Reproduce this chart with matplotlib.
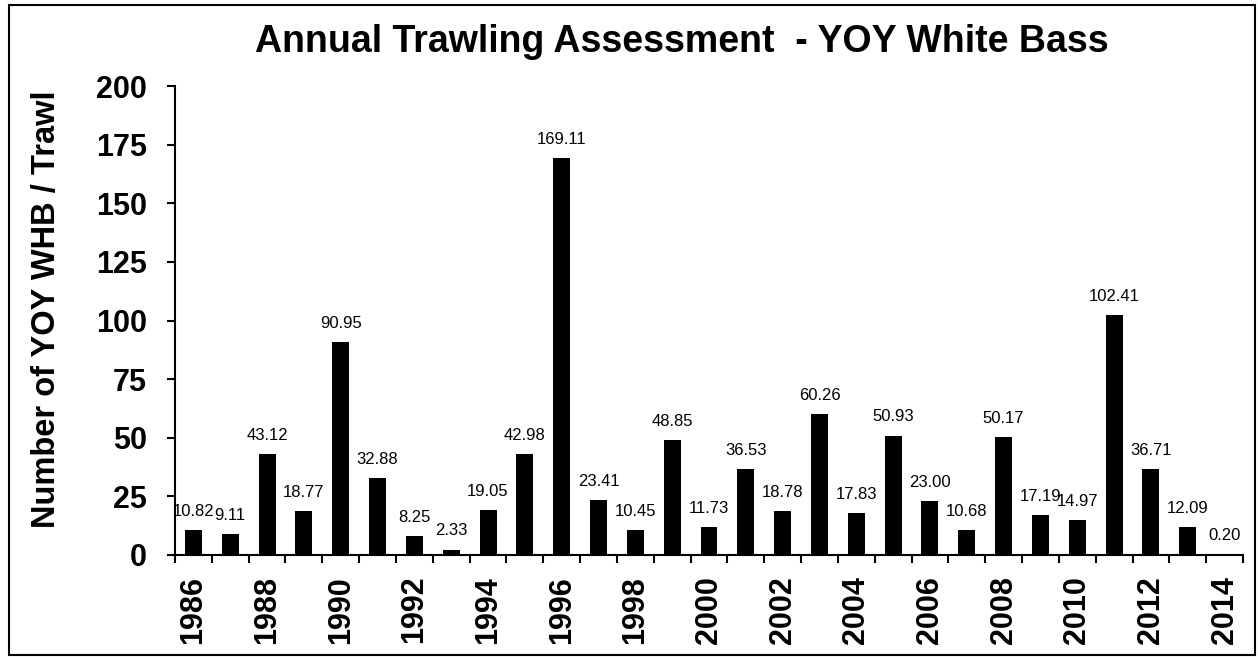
import matplotlib
matplotlib.use("Agg")
import matplotlib.pyplot as plt
from matplotlib.patches import Rectangle
import numpy as np

years = list(range(1986, 2015))
values = [10.82, 9.11, 43.12, 18.77, 90.95, 32.88, 8.25, 2.33, 19.05, 42.98,
          169.11, 23.41, 10.45, 48.85, 11.73, 36.53, 18.78, 60.26, 17.83, 50.93,
          23.00, 10.68, 50.17, 17.19, 14.97, 102.41, 36.71, 12.09, 0.20]
yticks = [0, 25, 50, 75, 100, 125, 150, 175, 200]
title = "Annual Trawling Assessment  - YOY White Bass"
ylabel = "Number of YOY WHB / Trawl"

plt.rcParams['font.family'] = ['Liberation Sans', 'DejaVu Sans']

W, H = 1258, 658
fig = plt.figure(figsize=(W / 100, H / 100), dpi=100)
ax = fig.add_axes([175 / W, 1 - 555 / H, (1243 - 175) / W, (555 - 86) / H])

x = np.arange(len(years))
ax.bar(x, values, width=0.46, color='black')
for xi, v in zip(x, values):
    ax.annotate(f"{v:.2f}", (xi, v), xytext=(0, 8), textcoords='offset points',
                ha='center', va='bottom', fontsize=12)

ax.set_xlim(-0.5, len(years) - 0.5)
ax.set_ylim(0, 200)
ax.set_yticks(yticks)
ax.set_yticklabels([str(t) for t in yticks], fontsize=22, fontweight='bold')
ax.set_xticks(np.arange(len(years) + 1) - 0.5)
ax.set_xticklabels([])
ax.set_xticks(x[::2], minor=True)
ax.set_xticklabels([str(y) for y in years[::2]], minor=True, rotation=90,
                   fontsize=22, fontweight='bold')
ax.tick_params(axis='x', which='minor', length=0, pad=15)
ax.tick_params(axis='x', which='major', direction='out', length=6, width=1.5)
ax.tick_params(axis='y', direction='out', length=6, width=1.5, pad=14)
for s in ['top', 'right']:
    ax.spines[s].set_visible(False)
for s in ['left', 'bottom']:
    ax.spines[s].set_linewidth(1.5)

fig.text(47 / W, 1 - 309 / H, ylabel, rotation=90, ha='center', va='center',
         fontsize=23.5, fontweight='bold')
fig.text(682 / W, 1 - 42 / H, title, ha='center', va='center', fontsize=27, fontweight='bold')

fig.patches.append(Rectangle((9 / W, 1 - 655 / H), (1255 - 9) / W, (655 - 5) / H,
                             transform=fig.transFigure, fill=False, edgecolor='black',
                             linewidth=1.5))
fig.savefig("out.png", dpi=100)
